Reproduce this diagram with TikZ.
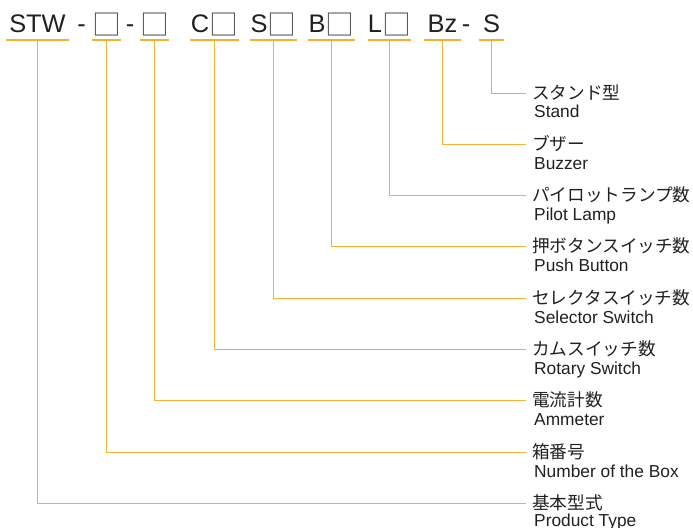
\documentclass[tikz,border=0pt]{standalone}
\usepackage{fontspec}
\setmainfont{Liberation Sans}
\newfontfamily\jpfont{Noto Sans CJK JP}
\definecolor{ol}{HTML}{F7B02E}
\definecolor{tx}{HTML}{231F20}
\definecolor{bx}{HTML}{58595B}
\newcommand{\bxg}{{\jpfont\fontsize{29}{29}\selectfont\color{bx}\raisebox{-2.5bp}{□}}}
\begin{document}
\begin{tikzpicture}[x=1bp,y=-1bp,
  code/.style={font=\fontsize{25.5}{25.5}\selectfont, text=tx, anchor=base, text depth=0pt, inner xsep=0pt, inner ysep=6.5bp},
  hy/.style={font=\fontsize{25.5}{25.5}\selectfont, text=tx, anchor=base, inner sep=0pt},
  jp/.style={font=\jpfont\fontsize{17.7}{17.7}\selectfont, text=tx, anchor=west, inner xsep=6bp, inner ysep=0pt, text height=14.5pt, text depth=2pt},
  en/.style={font=\fontsize{17.4}{17.4}\selectfont, text=tx, anchor=base west, inner sep=0pt},
  lead/.style={draw=ol, line width=1.8bp}]
\useasboundingbox (0,0) rectangle (693,528);

% code row
\node[code, minimum width=62bp] (c1) at (37.5,33) {STW};
\node[hy] (h1) at (81.5,33) {-};
\node[code, minimum width=25bp] (c2) at (106.5,33) {\bxg};
\node[hy] (h2) at (130,33) {-};
\node[code, minimum width=25bp] (c3) at (154.5,33) {\bxg};
\node[code, minimum width=48bp] (c4) at (214.5,33) {C\bxg};
\node[code, minimum width=42bp] (c5) at (273.5,33) {S\bxg};
\node[code, minimum width=42bp] (c6) at (331.5,33) {B\bxg};
\node[code, minimum width=43bp] (c7) at (389.5,33) {L\bxg};
\node[code, minimum width=36bp] (c8) at (442.5,33) {Bz};
\node[hy] (h3) at (466,33) {-};
\node[code, minimum width=24bp] (c9) at (491.5,33) {S};

% labels
\node[jp] (j9) at (526,93.5) {スタンド型};
\node[en] (e9) at (534,118) {Stand};
\node[jp] (j8) at (526,144.5) {ブザー};
\node[en] (e8) at (534,169.5) {Buzzer};
\node[jp] (j7) at (526,195.5) {パイロットランプ数};
\node[en] (e7) at (534,220.5) {Pilot Lamp};
\node[jp] (j6) at (526,246.5) {押ボタンスイッチ数};
\node[en] (e6) at (534,271.5) {Push Button};
\node[jp] (j5) at (526,298.5) {セレクタスイッチ数};
\node[en] (e5) at (534,323) {Selector Switch};
\node[jp] (j4) at (526,349.5) {カムスイッチ数};
\node[en] (e4) at (534,374.5) {Rotary Switch};
\node[jp] (j3) at (526,400.5) {電流計数};
\node[en] (e3) at (534,425.5) {Ammeter};
\node[jp] (j2) at (526,452.5) {箱番号};
\node[en] (e2) at (534,477) {Number of the Box};
\node[jp] (j1) at (526,503.5) {基本型式};
\node[en] (e1) at (534,526.5) {Product Type};

% leaders
\foreach \i in {1,...,9}{
  \draw[lead] (c\i.south west) -- (c\i.south east);
  \draw[lead] (c\i.south) |- (j\i.west);
}
\end{tikzpicture}
\end{document}
